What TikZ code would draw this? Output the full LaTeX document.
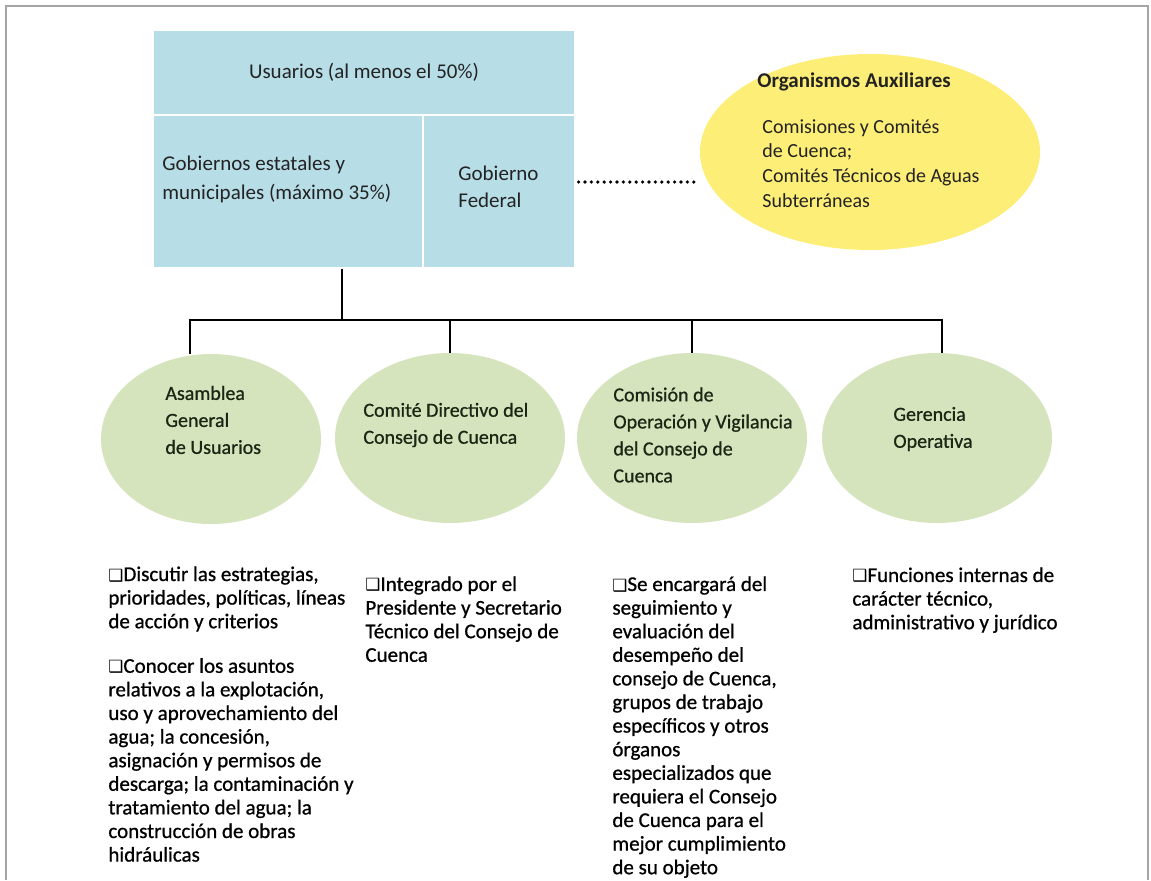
\documentclass[tikz,border=0pt]{standalone}
\usepackage{fontspec}
\setmainfont{Carlito}
\newfontfamily\gruesa[FakeBold=0.8]{Carlito}
\newfontfamily\symfont{DejaVu Sans}
\usepackage{xcolor}
\usepackage{tikz}
\usetikzlibrary{positioning,shapes.geometric}
\definecolor{celeste}{RGB}{183,221,231}
\definecolor{olivo}{RGB}{214,228,189}
\definecolor{amarillo}{RGB}{252,238,118}
\definecolor{marco}{RGB}{165,165,165}
\definecolor{tinta}{RGB}{35,35,35}
\definecolor{musgo}{RGB}{28,38,20}
\newcommand{\casilla}{\scalebox{0.8}{\symfont ❑}}
\tikzset{
  cell/.style={draw=white, line width=0.6pt, fill=celeste, inner sep=0pt},
  celltxt/.style={font=\fontsize{10.5}{14.5}\selectfont, text=tinta, align=left, inner sep=0pt},
  % organos
  org/.style={ellipse, fill=olivo, minimum width=115pt, minimum height=85pt, inner sep=0pt},
  orgtxt/.style={font=\gruesa\fontsize{10}{13.5}\selectfont, text=musgo, align=left, inner sep=0pt},
  aux/.style={ellipse, fill=amarillo, minimum width=170pt, minimum height=98pt, inner sep=0pt},
  auxtxt/.style={font=\fontsize{10}{12.35}\selectfont, text=tinta, align=left, inner sep=0pt},
  % funciones
  tarea/.style={font=\gruesa\fontsize{10.5}{11.8}\selectfont, align=left, anchor=north west, inner sep=0pt},
  rama/.style={draw=black, line width=0.9pt},
  punteado/.style={draw=black, line width=1.8pt, line cap=round, dash pattern=on 0pt off 3.2pt},
  borde/.style={draw=marco, line width=0.9pt}
}

\begin{document}
\begin{tikzpicture}[x=0.5pt, y=-0.5pt]
  \useasboundingbox (0,0) rectangle (1151,880);
  \draw[borde] (6,880) -- (6,6) -- (1148,6) -- (1148,880);

  % consejo de cuenca
  \node[cell, celltxt, minimum width=211pt, minimum height=42.5pt] (usr) at (364,72.5) {Usuarios (al menos el 50\%)};
  \node[cell, minimum width=135pt, minimum height=76.5pt] (gob) at (288,191.5) {};
  \node[cell, minimum width=76pt, minimum height=76.5pt] (fed) at (499,191.5) {};
  \node[celltxt, anchor=west] (gobt) at (162,179) {Gobiernos estatales y\\municipales (máximo 35\%)};
  \node[celltxt, anchor=west, font=\fontsize{10.5}{13.5}\selectfont] (fedt) at (458,187) {Gobierno\\Federal};

  \node[aux] (orga) at (870,152) {};
  \node[anchor=west, inner sep=0pt, text=tinta, font=\bfseries\fontsize{10.5}{12}\selectfont] (orgat) at (757,82) {Organismos Auxiliares};
  \node[auxtxt, anchor=north west] (orgal) at (762,119) {Comisiones y Comités\\de Cuenca;\\Comités Técnicos de Aguas\\Subterráneas};
  \coordinate (nivel) at (0,182);
  \draw[punteado] (fed.east |- nivel) ++(3,0) -- (orga.west |- nivel);

  % organos
  \node[org, minimum width=110pt] (asam) at (211,439) {};
  \node[org] (cdir) at (450,438) {};
  \node[org] (cov) at (692,438) {};
  \node[org] (ger) at (937,438) {};
  \node[orgtxt, anchor=west] (asamt) at (165,420) {Asamblea\\General\\de Usuarios};
  \node[orgtxt, anchor=west] (cdirt) at (363,425) {Comité Directivo del\\Consejo de Cuenca};
  \node[orgtxt, anchor=west] (covt) at (613,435) {Comisión de\\Operación y Vigilancia\\del Consejo de\\Cuenca};
  \node[orgtxt, anchor=west] (gert) at (893,429) {Gerencia\\Operativa};

  \coordinate (eje) at (342,320);
  \coordinate (b1) at (190,320);
  \coordinate (b4) at (942,320);
  \draw[rama] (gob.south -| eje) -- (eje);
  \draw[rama] (b1 |- asam.north) -- (b1) -- (b4) -- (b4 |- ger.north);
  \draw[rama] (cdir.north |- eje) -- (cdir.north);
  \draw[rama] (cov.north |- eje) -- (cov.north);

  % funciones
  \node[tarea] (t1) at (108,566) {\casilla Discutir las estrategias,\\prioridades, políticas, líneas\\de acción y criterios\\[10.5pt]%
    \casilla Conocer los asuntos\\relativos a la explotación,\\uso y aprovechamiento del\\agua; la concesión,\\asignación y permisos de\\descarga; la contaminación y\\tratamiento del agua; la\\construcción de obras\\hidráulicas};
  \node[tarea] (t2) at (365,576) {\casilla Integrado por el\\Presidente y Secretario\\Técnico del Consejo de\\Cuenca};
  \node[tarea] (t3) at (612,576) {\casilla Se encargará del\\seguimiento y\\evaluación del\\desempeño del\\consejo de Cuenca,\\grupos de trabajo\\específicos y otros\\órganos\\especializados que\\requiera el Consejo\\de Cuenca para el\\mejor cumplimiento\\de su objeto};
  \node[tarea] (t4) at (852,567) {\casilla Funciones internas de\\carácter técnico,\\administrativo y jurídico};
\end{tikzpicture}
\end{document}
